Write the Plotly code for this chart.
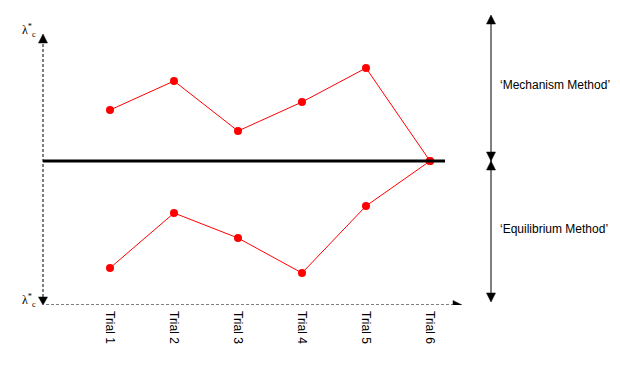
import plotly.graph_objects as go

# Data (arbitrary units; 0 = reference line lambda*_c)
trials = [1, 2, 3, 4, 5, 6]
tick_labels = ["Trial 1", "Trial 2", "Trial 3", "Trial 4", "Trial 5", "Trial 6"]
mechanism = [51, 80, 30, 59, 93, 0]
equilibrium = [-107, -52, -77, -112, -45, 0]

# page has an 8px body margin; helpers convert screen pixels to data units
OFF = 8
W, H = 620, 366
PLOT_H = 305 - OFF  # plot area bottom = dashed x axis
def xd(px):
    return 1 + ((px - OFF) - (110 - OFF)) / 64
def yd(py):
    return 161 - py
XMIN, XMAX = xd(OFF), xd(OFF + W)
YMIN, YMAX = yd(305), yd(OFF)

FONT = "Liberation Sans, Arial, sans-serif"
fig = go.Figure()

for vals in (mechanism, equilibrium):
    fig.add_trace(go.Scatter(x=trials, y=vals, mode="lines+markers",
                             line=dict(color="#ff0000", width=1),
                             marker=dict(color="#ff0000", size=8),
                             showlegend=False, hoverinfo="skip", cliponaxis=False))

shapes = []
shapes.append(dict(type="line", xref="x", yref="y", x0=xd(43), x1=xd(43), y0=yd(44), y1=yd(298),
                   line=dict(color="black", width=1, dash="3px,2px")))
shapes.append(dict(type="line", xref="x", yref="y", x0=xd(46), x1=xd(454), y0=yd(305), y1=yd(305),
                   line=dict(color="black", width=1, dash="3px,2px")))
shapes.append(dict(type="line", xref="x", yref="y", x0=xd(43), x1=xd(445), y0=0, y1=0,
                   line=dict(color="black", width=3)))
shapes.append(dict(type="line", xref="x", yref="y", x0=xd(491), x1=xd(491), y0=yd(18), y1=yd(299),
                   line=dict(color="black", width=1)))

def tri(px, py, direction, size=9, length=9):
    h = size / 2
    if direction == "up":
        path = f"M {-h},{-length} L {h},{-length} L 0,0 Z"
    elif direction == "down":
        path = f"M {-h},{length} L {h},{length} L 0,0 Z"
    else:  # right
        path = f"M {-length},{-h} L {-length},{h} L 0,0 Z"
    return dict(type="path", xref="x", yref="y", xsizemode="pixel", ysizemode="pixel",
                xanchor=xd(px), yanchor=yd(py), path=path,
                fillcolor="black", line=dict(color="black", width=0.5))

shapes += [tri(43, 34, "up"), tri(43, 305, "down", length=8), tri(462, 305, "right"),
           tri(491, 15, "up"), tri(491, 161, "down"), tri(491, 161, "up"), tri(491, 302, "down")]

annotations = [
    dict(x=xd(498), y=yd(85), xref="x", yref="y", text="‘Mechanism Method’", showarrow=False,
         xanchor="left", yanchor="middle", font=dict(family=FONT, size=12, color="black")),
    dict(x=xd(498), y=yd(229), xref="x", yref="y", text="‘Equilibrium Method’", showarrow=False,
         xanchor="left", yanchor="middle", font=dict(family=FONT, size=12, color="black")),
    dict(x=xd(20), y=yd(30), xref="x", yref="y", text="λ<sup>*</sup><sub>c</sub>", showarrow=False,
         xanchor="left", yanchor="middle", font=dict(family="Liberation Serif, serif", size=12, color="black")),
    dict(x=xd(20), y=yd(300), xref="x", yref="y", text="λ<sup>*</sup><sub>c</sub>", showarrow=False,
         xanchor="left", yanchor="middle", font=dict(family="Liberation Serif, serif", size=12, color="black")),
]

fig.update_layout(
    width=W, height=H,
    margin=dict(l=0, r=0, t=0, b=H - PLOT_H),
    paper_bgcolor="white", plot_bgcolor="white",
    shapes=shapes, annotations=annotations,
    xaxis=dict(range=[XMIN, XMAX], tickmode="array", tickvals=trials, ticktext=tick_labels,
               tickangle=90, showgrid=False, zeroline=False, showline=False, ticks="",
               ticklabelstandoff=5,
               tickfont=dict(family=FONT, size=12, color="black")),
    yaxis=dict(range=[YMIN, YMAX], showgrid=False, zeroline=False, showline=False,
               showticklabels=False, ticks=""),
)

fig.write_html("out.html")
